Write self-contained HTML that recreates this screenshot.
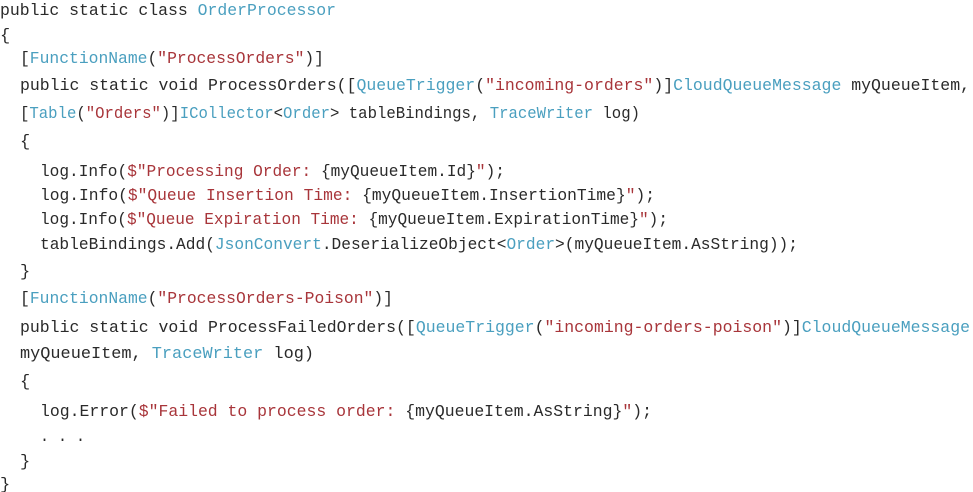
<!DOCTYPE html>
<html><head><meta charset="utf-8"><style>
html,body{margin:0;padding:0;background:#fff;}
svg{display:block}
text{font-family:"Liberation Mono",monospace;font-size:17px;fill:#2a2a2a;}
.t{fill:#4a9fbf}.s{fill:#a8353a}
</style></head><body>
<svg width="973" height="492" viewBox="0 0 973 492" xmlns="http://www.w3.org/2000/svg">
<text x="0" y="15" textLength="336" lengthAdjust="spacingAndGlyphs">public static class <tspan class="t">OrderProcessor</tspan></text>
<text x="0" y="40">{</text>
<text x="20" y="63" textLength="304" lengthAdjust="spacingAndGlyphs">[<tspan class="t">FunctionName</tspan>(<tspan class="s">"ProcessOrders"</tspan>)]</text>
<text x="20" y="90" textLength="950" lengthAdjust="spacingAndGlyphs">public static void ProcessOrders([<tspan class="t">QueueTrigger</tspan>(<tspan class="s">"incoming-orders"</tspan>)]<tspan class="t">CloudQueueMessage</tspan> myQueueItem,</text>
<text x="20" y="118" textLength="620" lengthAdjust="spacingAndGlyphs">[<tspan class="t">Table</tspan>(<tspan class="s">"Orders"</tspan>)]<tspan class="t">ICollector</tspan>&lt;<tspan class="t">Order</tspan>&gt; tableBindings, <tspan class="t">TraceWriter</tspan> log)</text>
<text x="20" y="146">{</text>
<text x="40" y="176" textLength="465" lengthAdjust="spacingAndGlyphs">log.Info(<tspan class="s">$"Processing Order: </tspan>{myQueueItem.Id}<tspan class="s">"</tspan>);</text>
<text x="40" y="200" textLength="615" lengthAdjust="spacingAndGlyphs">log.Info(<tspan class="s">$"Queue Insertion Time: </tspan>{myQueueItem.InsertionTime}<tspan class="s">"</tspan>);</text>
<text x="40" y="224" textLength="628" lengthAdjust="spacingAndGlyphs">log.Info(<tspan class="s">$"Queue Expiration Time: </tspan>{myQueueItem.ExpirationTime}<tspan class="s">"</tspan>);</text>
<text x="40" y="249" textLength="758" lengthAdjust="spacingAndGlyphs">tableBindings.Add(<tspan class="t">JsonConvert</tspan>.DeserializeObject&lt;<tspan class="t">Order</tspan>&gt;(myQueueItem.AsString));</text>
<text x="20" y="276">}</text>
<text x="20" y="303" textLength="373" lengthAdjust="spacingAndGlyphs">[<tspan class="t">FunctionName</tspan>(<tspan class="s">"ProcessOrders-Poison"</tspan>)]</text>
<text x="20" y="332" textLength="950" lengthAdjust="spacingAndGlyphs">public static void ProcessFailedOrders([<tspan class="t">QueueTrigger</tspan>(<tspan class="s">"incoming-orders-poison"</tspan>)]<tspan class="t">CloudQueueMessage</tspan></text>
<text x="20" y="358" textLength="294" lengthAdjust="spacingAndGlyphs">myQueueItem, <tspan class="t">TraceWriter</tspan> log)</text>
<text x="20" y="386">{</text>
<text x="40" y="416" textLength="612" lengthAdjust="spacingAndGlyphs">log.Error(<tspan class="s">$"Failed to process order: </tspan>{myQueueItem.AsString}<tspan class="s">"</tspan>);</text>
<text x="40" y="441" textLength="45" lengthAdjust="spacingAndGlyphs">. . .</text>
<text x="20" y="466">}</text>
<text x="0" y="489">}</text>
</svg>
</body></html>
